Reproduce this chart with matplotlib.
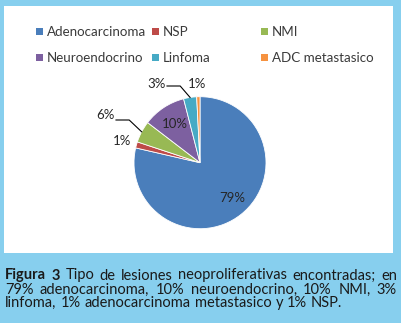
import numpy as np
import matplotlib.pyplot as plt
from matplotlib.patches import Rectangle

categories = ['Adenocarcinoma', 'NSP', 'NMI', 'Neuroendocrino', 'Linfoma', 'ADC metastasico']
shares = [78.6, 1.5, 5.3, 10.6, 3.2, 0.8]
pct_labels = ['79%', '1%', '6%', '10%', '3%', '1%']
colors = ['#4a7ebb', '#be4b48', '#98b954', '#7d60a0', '#46aac5', '#f69240']

caption_lines = [
    [('Figura', 'bold'), ('3', 'bold'), ('Tipo', 'normal'), ('de', 'normal'), ('lesiones', 'normal'),
     ('neoproliferativas', 'normal'), ('encontradas;', 'normal'), ('en', 'normal')],
    [('79%', 'normal'), ('adenocarcinoma,', 'normal'), ('10%', 'normal'), ('neuroendocrino,', 'normal'),
     ('10%', 'normal'), ('NMI,', 'normal'), ('3%', 'normal')],
    [('linfoma,', 'normal'), ('1%', 'normal'), ('adenocarcinoma', 'normal'), ('metastasico', 'normal'),
     ('y', 'normal'), ('1%', 'normal'), ('NSP.', 'normal')],
]

W, H = 402, 323
fig = plt.figure(figsize=(W / 100, H / 100), dpi=100)
fig.patch.set_facecolor('#87cfee')


def fx(px):
    return px / W


def fy(py):
    return 1 - py / H


# white chart panel, kept behind the pie axes
fig.patches.append(Rectangle((fx(4), fy(253)), fx(393) - fx(4), fy(6) - fy(253),
                             transform=fig.transFigure, facecolor='white', edgecolor='none', zorder=-5))

# pie
cx, cy, r = 200, 162.7, 66
ax = fig.add_axes([fx(cx - r), fy(cy + r), 2 * r / W, 2 * r / H])
wedges, _ = ax.pie(shares, colors=colors, startangle=90, counterclock=False,
                   wedgeprops=dict(edgecolor='white', linewidth=0.6))
ax.set_xlim(-1, 1)
ax.set_ylim(-1, 1)
ax.set_aspect('equal')
ax.axis('off')

label_px = [(232, 198), (122, 141), (105, 115), (175, 123.5), (157, 84), (197, 84)]
for lab, (px, py) in zip(pct_labels, label_px):
    ax.text((px - cx) / r, (cy - py) / r, lab, ha='center', va='center', fontsize=9.5,
            family='Lato', color='#262626', clip_on=False)

# leader lines for 6% and 3%
for i, (sx, sy) in [(2, (116, 120)), (4, (167, 86))]:
    mid = np.deg2rad((wedges[i].theta1 + wedges[i].theta2) / 2)
    ex, ey = np.cos(mid), np.sin(mid)
    x0, y0 = (sx - cx) / r, (cy - sy) / r
    ax.plot([x0, x0 + 0.2, ex], [y0, y0, ey], color='black', lw=0.8, clip_on=False)

# legend, laid out like the spreadsheet one
col_x = [36, 152, 261]
row_y = [31.5, 57.5]
for k, (name, col) in enumerate(zip(categories, colors)):
    x = col_x[k % 3]
    y = row_y[k // 3]
    fig.patches.append(Rectangle((fx(x), fy(y + 3.5)), 7 / W, 7 / H, transform=fig.transFigure,
                                 facecolor=col, edgecolor='none'))
    fig.text(fx(x + 11), fy(y), name, fontsize=9.6, family='Lato', color='#3a3a3a', va='center')

# justified caption
renderer = fig.canvas.get_renderer()
baselines = [279.5, 293.5, 307]
for li, (words, yb) in enumerate(zip(caption_lines, baselines)):
    texts = [fig.text(0, fy(yb), w, fontsize=10.5, fontweight=wt, family='Lato',
                      va='baseline', color='#1a1a1a') for w, wt in words]
    widths = [t.get_window_extent(renderer).width for t in texts]
    if li < len(caption_lines) - 1:
        gap = (397 - 5 - sum(widths)) / (len(words) - 1)
    else:
        gap = 4
    x = 5
    for t, w in zip(texts, widths):
        t.set_x(fx(x))
        x += w + gap

fig.savefig('out.png', dpi=100, facecolor=fig.get_facecolor())
